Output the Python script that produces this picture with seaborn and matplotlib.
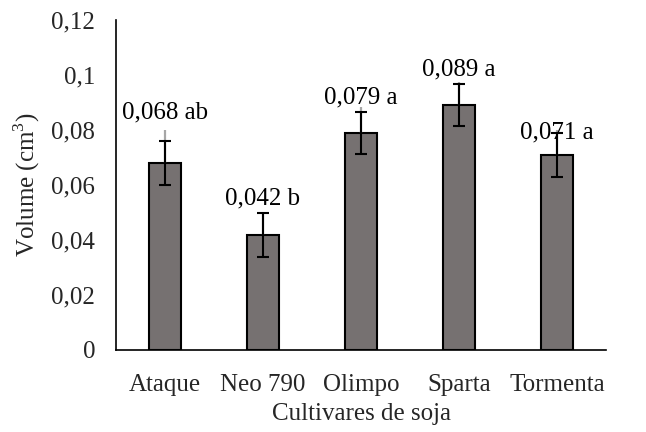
import matplotlib
matplotlib.use("Agg")
import matplotlib.pyplot as plt
import seaborn as sns
import pandas as pd
import numpy as np

cultivares = ["Ataque", "Neo 790", "Olimpo", "Sparta", "Tormenta"]
volume = [0.068, 0.042, 0.079, 0.089, 0.071]
erro = [0.008, 0.008, 0.0077, 0.0077, 0.008]
erro_sup = [0.012, 0.008, 0.0095, 0.0085, 0.009]
letras = ["ab", "b", "a", "a", "a"]
yticks = [0, 0.02, 0.04, 0.06, 0.08, 0.1, 0.12]
ytick_labels = ["0", "0,02", "0,04", "0,06", "0,08", "0,1", "0,12"]

# label vertical offsets (layout)
label_offsets = [0.0185, 0.0132, 0.013, 0.013, 0.0082]

FS = 18

sns.set_theme(style="white")
plt.rcParams["font.family"] = ["Liberation Serif", "DejaVu Serif"]
plt.rcParams["mathtext.fontset"] = "custom"
plt.rcParams["mathtext.rm"] = "Liberation Serif"

fig = plt.figure(figsize=(6.46, 4.32), dpi=100)
ax = fig.add_axes([116/646, 1-350/432, (606-116)/646, (350-20)/432])

df = pd.DataFrame({"Cultivar": cultivares, "Volume": volume})
sns.barplot(data=df, x="Cultivar", y="Volume", color="#767171", saturation=1,
            width=0.32, edgecolor="black", linewidth=1.5, ax=ax, errorbar=None)

x = np.arange(len(cultivares))
v = np.array(volume)
for xi, vi, eu in zip(x, v, erro_sup):
    ax.plot([xi, xi], [vi, vi + eu], color="#a6a6a6", lw=1.6, zorder=3, solid_capstyle="butt")
ax.errorbar(x, v, yerr=erro, fmt="none", ecolor="black", elinewidth=1.5,
            capsize=4.5, capthick=1.5, zorder=4)

for xi, vi, lt, off in zip(x, v, letras, label_offsets):
    txt = f"{vi:.3f}".replace(".", ",") + " " + lt
    ax.text(xi, vi + off, txt, ha="center", va="center", fontsize=FS, color="black", zorder=5)

ax.set_xlim(-0.5, len(cultivares) - 0.5)
ax.set_ylim(0, 0.12)
ax.set_yticks(yticks)
ax.set_yticklabels(ytick_labels, fontsize=FS)
ax.set_xticks(x)
ax.set_xticklabels(cultivares, fontsize=FS)
ax.tick_params(axis="x", which="major", length=0, pad=17)
ax.set_xticks(np.arange(-0.5, len(cultivares)), minor=True)
ax.tick_params(axis="x", which="minor", length=5, width=1.2, direction="out", color="black")
ax.tick_params(axis="y", length=5, width=1.2, direction="out", color="black", pad=10)

for s in ["top", "right"]:
    ax.spines[s].set_visible(False)
for s in ["left", "bottom"]:
    ax.spines[s].set_color("black")
    ax.spines[s].set_linewidth(1.2)

ax.set_xlabel("Cultivares de soja", fontsize=FS)
ax.set_ylabel("Volume (cm$^3$)", fontsize=FS)
ax.xaxis.set_label_coords((362 - 116) / 490, -(403 - 350) / 330)
ax.yaxis.set_label_coords(-(116 - 42) / 490, (350 - 185) / 330)

fig.savefig("out.png", dpi=100)
